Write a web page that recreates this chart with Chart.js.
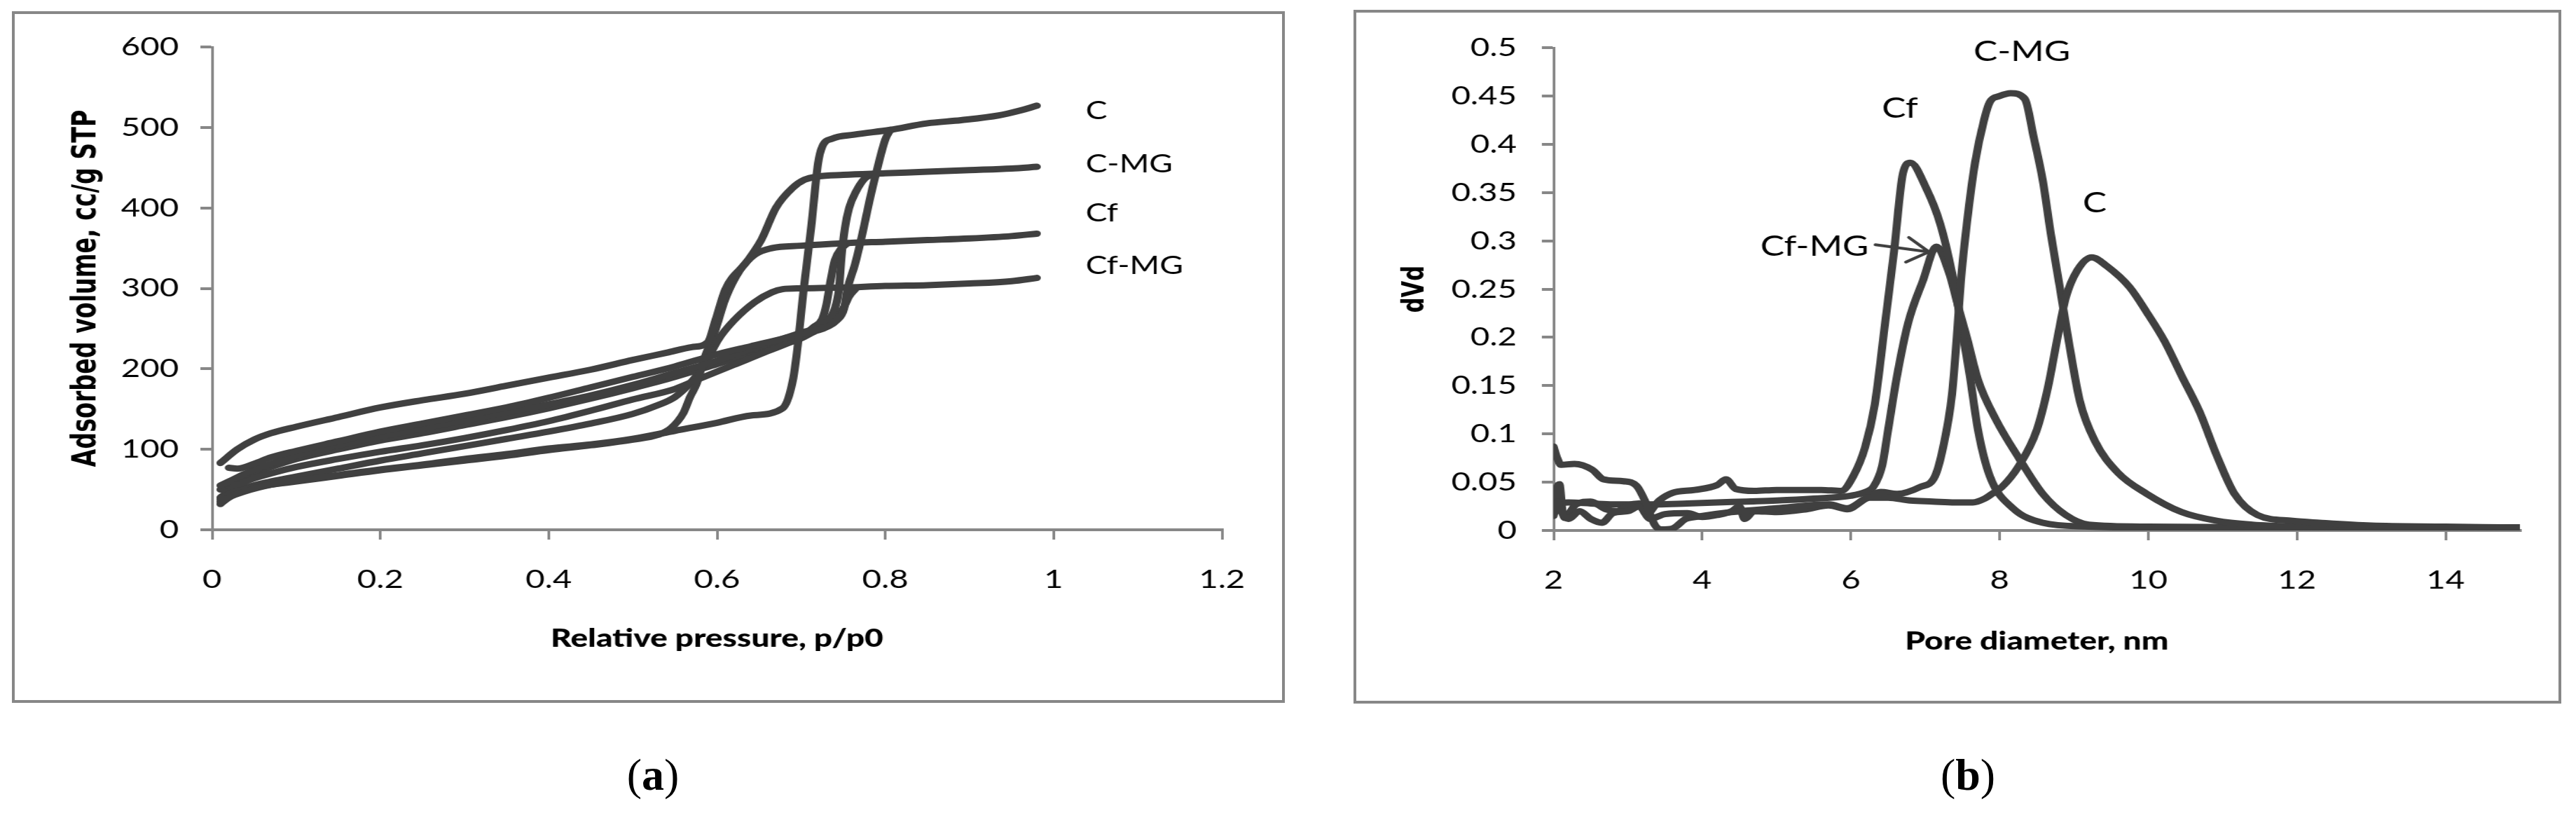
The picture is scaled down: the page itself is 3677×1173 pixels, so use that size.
<!DOCTYPE html>
<html>
<head>
<meta charset="utf-8">
<script src="https://cdn.jsdelivr.net/npm/chart.js@4.4.0/dist/chart.umd.min.js"></script>
<style>
  html, body { margin: 0; padding: 0; background: #fff; }
  body { width: 3677px; height: 1173px; position: relative; overflow: hidden; }
  .panel { position: absolute; border: 4px solid #878787; box-sizing: border-box; background: #fff; }
  .panel canvas { position: absolute; left: 0; top: 0; }
  .cap { position: absolute; font-family: 'Liberation Serif', 'DejaVu Serif', serif; font-size: 64px; color: #000; transform: translate(-50%, -50%); }
</style>
</head>
<body>
<!-- the source figure is stretched sideways, so each canvas is drawn narrower and widened by css -->
<div class="panel" style="left:17px;top:16px;width:1817px;height:987px;">
  <canvas id="chartA" width="1413" height="979" style="width:1809px;height:979px;"></canvas>
</div>
<div class="panel" style="left:1932px;top:14px;width:1724px;height:990px;">
  <canvas id="chartB" width="1341" height="982" style="width:1716px;height:982px;"></canvas>
</div>
<div class="cap" style="left:932px;top:1106px;">(<b>a</b>)</div>
<div class="cap" style="left:2809px;top:1106px;">(<b>b</b>)</div>

<script>
// ---- (a) isotherms: relative pressure vs adsorbed volume, two branches per sample
const xTicksA = [0, 0.2, 0.4, 0.6, 0.8, 1, 1.2];
const xLabelsA = ['0', '0.2', '0.4', '0.6', '0.8', '1', '1.2'];
const yTicksA = [0, 100, 200, 300, 400, 500, 600];

const cLowP = [0.01, 0.02, 0.04, 0.07, 0.1, 0.15, 0.2, 0.25, 0.3, 0.35, 0.4, 0.45, 0.5, 0.55, 0.6, 0.64, 0.678, 0.69, 0.695, 0.703, 0.712, 0.72, 0.725, 0.737, 0.763, 0.806, 0.849, 0.89, 0.935, 0.96, 0.98];
const cLowV = [32, 40, 48, 56, 61, 68, 75, 81, 88, 94, 101, 106, 113, 123, 133, 142, 151, 185, 221, 299, 377, 455, 476, 486, 491, 497, 505, 509, 515, 521, 527];
const cHighP = [0.02, 0.03, 0.05, 0.07, 0.1, 0.15, 0.2, 0.25, 0.3, 0.35, 0.4, 0.45, 0.5, 0.55, 0.6, 0.64, 0.68, 0.717, 0.742, 0.751, 0.755, 0.764, 0.773, 0.781, 0.79, 0.8, 0.806];
const cHighV = [77, 76, 82, 90, 98, 110, 122, 132, 142, 152, 164, 177, 190, 203, 218, 228, 238, 248, 260, 275, 299, 330, 369, 408, 447, 485, 497];

const cmgLowP = [0.01, 0.03, 0.05, 0.07, 0.1, 0.15, 0.2, 0.25, 0.3, 0.35, 0.4, 0.45, 0.5, 0.54, 0.57, 0.589, 0.598, 0.61, 0.636, 0.653, 0.67, 0.69, 0.704, 0.72, 0.75, 0.8, 0.85, 0.9, 0.95, 0.98];
const cmgLowV = [83, 100, 112, 120, 128, 140, 152, 161, 169, 179, 189, 199, 211, 220, 227, 233, 260, 299, 334, 361, 400, 425, 435, 439, 441, 443, 445, 447, 449, 451];
const cmgHighP = [0.01, 0.02, 0.04, 0.07, 0.1, 0.15, 0.2, 0.25, 0.3, 0.35, 0.4, 0.45, 0.5, 0.55, 0.6, 0.65, 0.7, 0.73, 0.74, 0.745, 0.748, 0.752, 0.757, 0.765, 0.775, 0.785];
const cmgHighV = [55, 60, 70, 82, 92, 105, 116, 126, 136, 146, 156, 167, 180, 195, 210, 228, 245, 258, 275, 300, 340, 375, 400, 420, 436, 442];

const cfLowP = [0.01, 0.02, 0.04, 0.07, 0.1, 0.15, 0.2, 0.25, 0.3, 0.35, 0.4, 0.45, 0.5, 0.53, 0.545, 0.56, 0.568, 0.576, 0.585, 0.598, 0.61, 0.627, 0.645, 0.665, 0.7, 0.75, 0.8, 0.85, 0.9, 0.95, 0.98];
const cfLowV = [38, 45, 50, 56, 60, 67, 74, 80, 86, 92, 99, 105, 112, 118, 126, 145, 165, 182, 213, 248, 287, 322, 342, 350, 353, 356, 358, 360, 362, 365, 368];
const cfHighP = [0.01, 0.02, 0.04, 0.07, 0.1, 0.15, 0.2, 0.25, 0.3, 0.35, 0.4, 0.45, 0.5, 0.55, 0.58, 0.62, 0.66, 0.7, 0.715, 0.725, 0.73, 0.735, 0.74, 0.748, 0.755];
const cfHighV = [40, 48, 60, 70, 78, 88, 97, 105, 114, 124, 135, 148, 162, 175, 188, 205, 222, 240, 252, 262, 280, 310, 335, 350, 356];

const cfmgLowP = [0.01, 0.02, 0.04, 0.07, 0.1, 0.15, 0.2, 0.25, 0.3, 0.35, 0.4, 0.45, 0.5, 0.53, 0.55, 0.568, 0.585, 0.602, 0.62, 0.645, 0.665, 0.678, 0.7, 0.75, 0.8, 0.85, 0.9, 0.95, 0.98];
const cfmgLowV = [35, 42, 52, 60, 66, 76, 86, 95, 104, 113, 122, 132, 144, 155, 165, 182, 205, 237, 260, 283, 295, 299, 300, 301, 303, 304, 306, 309, 313];
const cfmgHighP = [0.01, 0.02, 0.04, 0.07, 0.1, 0.15, 0.2, 0.25, 0.3, 0.35, 0.4, 0.45, 0.5, 0.55, 0.6, 0.65, 0.7, 0.715, 0.73, 0.74, 0.75, 0.757, 0.765];
const cfmgHighV = [50, 56, 66, 78, 88, 100, 111, 120, 130, 140, 151, 163, 176, 190, 206, 222, 238, 246, 252, 262, 275, 290, 300];

// ---- (b) pore size distribution: pore diameter (nm) vs dVd
const xTicksB = [2, 4, 6, 8, 10, 12, 14];
const yTicksB = [0, 0.05, 0.1, 0.15, 0.2, 0.25, 0.3, 0.35, 0.4, 0.45, 0.5];
const yLabelsB = ['0', '0.05', '0.1', '0.15', '0.2', '0.25', '0.3', '0.35', '0.4', '0.45', '0.5'];

const cD = [2.0, 2.05, 2.1, 2.28, 2.52, 2.67, 2.94, 3.12, 3.24, 3.36, 3.45, 3.6, 3.78, 3.96, 4.39, 5.0, 5.71, 5.95, 6.25, 6.5, 6.8, 7.1, 7.4, 7.64, 7.8, 7.9, 8.03, 8.26, 8.5, 8.65, 8.77, 8.89, 9.05, 9.24, 9.44, 9.75, 9.98, 10.22, 10.45, 10.69, 10.92, 11.16, 11.47, 11.94, 12.3, 13, 14, 15];
const cV = [0.087, 0.075, 0.068, 0.069, 0.063, 0.053, 0.051, 0.046, 0.029, 0.006, 0.001, 0.002, 0.012, 0.0145, 0.019, 0.023, 0.027, 0.023, 0.034, 0.034, 0.031, 0.030, 0.029, 0.029, 0.033, 0.038, 0.045, 0.067, 0.104, 0.148, 0.196, 0.241, 0.27, 0.283, 0.274, 0.252, 0.226, 0.196, 0.16, 0.123, 0.078, 0.038, 0.016, 0.01, 0.008, 0.005, 0.004, 0.003];

const cmgD = [2.0, 2.05, 2.1, 2.2, 2.35, 2.5, 2.65, 2.8, 3.0, 3.15, 3.3, 3.5, 3.8, 4.0, 4.2, 4.4, 4.5, 4.57, 4.7, 5.0, 5.4, 5.7, 5.95, 6.2, 6.4, 6.62, 6.93, 7.13, 7.24, 7.36, 7.42, 7.48, 7.56, 7.67, 7.79, 7.87, 8.0, 8.15, 8.34, 8.46, 8.58, 8.69, 8.81, 8.93, 9.08, 9.28, 9.59, 9.98, 10.45, 10.92, 11.4, 12, 13, 15];
const cmgV = [0.015, 0.03, 0.02, 0.012, 0.02, 0.012, 0.008, 0.018, 0.02, 0.025, 0.012, 0.017, 0.018, 0.014, 0.016, 0.02, 0.025, 0.012, 0.02, 0.019, 0.022, 0.026, 0.022, 0.033, 0.04, 0.038, 0.045, 0.056, 0.086, 0.141, 0.196, 0.259, 0.318, 0.381, 0.425, 0.444, 0.45, 0.453, 0.447, 0.407, 0.363, 0.307, 0.252, 0.196, 0.134, 0.093, 0.06, 0.038, 0.019, 0.01, 0.006, 0.004, 0.003, 0.003];

const cfD = [2.0, 2.05, 2.08, 2.12, 2.15, 2.3, 2.5, 2.7, 2.85, 3.0, 3.15, 3.25, 3.42, 3.6, 3.9, 4.2, 4.32, 4.45, 4.7, 5.0, 5.6, 5.87, 6.03, 6.19, 6.32, 6.46, 6.58, 6.7, 6.8, 7.01, 7.2, 7.36, 7.48, 7.6, 7.71, 7.87, 8.18, 8.58, 9.2, 10, 12, 15];
const cfV = [0.02, 0.045, 0.048, 0.02, 0.013, 0.027, 0.03, 0.022, 0.02, 0.026, 0.028, 0.017, 0.031, 0.039, 0.042, 0.047, 0.053, 0.043, 0.041, 0.042, 0.042, 0.041, 0.056, 0.086, 0.13, 0.215, 0.289, 0.37, 0.381, 0.355, 0.318, 0.267, 0.215, 0.16, 0.104, 0.056, 0.023, 0.008, 0.004, 0.003, 0.003, 0.003];

const cfmgD = [2.0, 2.2, 2.5, 2.8, 3.1, 3.4, 3.8, 4.2, 4.6, 5.0, 5.5, 6.0, 6.2, 6.3, 6.42, 6.5, 6.62, 6.77, 6.97, 7.15, 7.32, 7.44, 7.56, 7.71, 7.95, 8.26, 8.58, 8.89, 9.2, 10, 12, 15];
const cfmgV = [0.028, 0.029, 0.028, 0.027, 0.027, 0.027, 0.028, 0.029, 0.03, 0.031, 0.033, 0.036, 0.04, 0.045, 0.067, 0.104, 0.16, 0.215, 0.259, 0.294, 0.267, 0.233, 0.2, 0.156, 0.115, 0.075, 0.038, 0.016, 0.006, 0.004, 0.003, 0.003];

const lineColor = '#404040';
const axisColor = '#878787';
const tickFont = { family: 'Lato', size: 37 };

function pts(xs, ys) {
  return xs.map(function (x, i) { return { x: x, y: ys[i] }; });
}

function series(xs, ys) {
  return {
    data: pts(xs, ys),
    showLine: true,
    borderColor: lineColor,
    borderWidth: 9,
    borderCapStyle: 'round',
    borderJoinStyle: 'round',
    pointRadius: 0,
    cubicInterpolationMode: 'monotone'
  };
}

// sample names written next to the curves, placed in data units
const notesPlugin = {
  id: 'notes',
  afterDatasetsDraw(chart, args, opts) {
    const ctx = chart.ctx;
    const sx = chart.scales.x, sy = chart.scales.y;
    ctx.save();
    ctx.fillStyle = '#000';
    ctx.font = opts.font;
    ctx.textBaseline = 'middle';
    opts.items.forEach(function (n) {
      ctx.textAlign = n.align;
      ctx.fillText(n.text, sx.getPixelForValue(n.x), sy.getPixelForValue(n.y));
    });
    if (opts.arrow) {
      const a = opts.arrow;
      const px = function (p) { return [sx.getPixelForValue(p[0]), sy.getPixelForValue(p[1])]; };
      const f = px(a.from), t = px(a.to), h1 = px(a.head1), h2 = px(a.head2);
      ctx.strokeStyle = lineColor;
      ctx.lineWidth = 4;
      ctx.lineCap = 'round';
      ctx.beginPath();
      ctx.moveTo(f[0], f[1]); ctx.lineTo(t[0], t[1]);
      ctx.moveTo(h1[0], h1[1]); ctx.lineTo(t[0], t[1]); ctx.lineTo(h2[0], h2[1]);
      ctx.stroke();
    }
    ctx.restore();
  }
};

function axes(o) {
  return {
    x: {
      type: 'linear', min: o.xMin, max: o.xMax,
      border: { color: axisColor, width: 4 },
      grid: { drawOnChartArea: false, drawTicks: true, tickLength: 14, color: axisColor, lineWidth: 3 },
      afterBuildTicks: function (s) { s.ticks = o.xTicks.map(function (v) { return { value: v }; }); },
      afterFit: function (s) { s.height = o.xHeight; },
      ticks: { autoSkip: false, maxRotation: 0, padding: o.xPad, color: '#000', font: tickFont,
        callback: function (v, i) { return o.xLabels[i]; } },
      title: { display: true, text: o.xTitle, color: '#000', padding: { top: 0, bottom: o.xTitlePad },
        font: { family: 'Lato', weight: '900', size: 36 } }
    },
    y: {
      type: 'linear', min: o.yMin, max: o.yMax,
      border: { color: axisColor, width: 3 },
      grid: { drawOnChartArea: false, drawTicks: true, tickLength: 13, color: axisColor, lineWidth: 4 },
      afterBuildTicks: function (s) { s.ticks = o.yTicks.map(function (v) { return { value: v }; }); },
      afterFit: function (s) { s.width = o.yWidth; },
      ticks: { autoSkip: false, padding: o.yPad, color: '#000', font: tickFont,
        callback: function (v, i) { return o.yLabels[i]; } },
      title: { display: true, text: o.yTitle, color: '#000', padding: { top: o.yTitlePad, bottom: 0 },
        font: { family: "'DejaVu Sans Condensed', 'DejaVu Sans'", weight: 'bold', size: o.yTitleSize } }
    }
  };
}

new Chart(document.getElementById('chartA').getContext('2d'), {
  type: 'scatter',
  data: {
    datasets: [
      series(cLowP, cLowV), series(cHighP, cHighV),
      series(cmgLowP, cmgLowV), series(cmgHighP, cmgHighV),
      series(cfLowP, cfLowV), series(cfHighP, cfHighV),
      series(cfmgLowP, cfmgLowV), series(cfmgHighP, cfmgHighV)
    ]
  },
  plugins: [notesPlugin],
  options: {
    responsive: false,
    animation: false,
    layout: { padding: { top: 47, right: 67, bottom: 0, left: 0 } },
    scales: axes({
      xMin: 0, xMax: 1.2, xTicks: xTicksA, xLabels: xLabelsA, xHeight: 243, xPad: 35,
      xTitle: 'Relative pressure, p/p0', xTitlePad: 66,
      yMin: 0, yMax: 600, yTicks: yTicksA, yLabels: yTicksA.map(String), yWidth: 220, yPad: 24,
      yTitle: 'Adsorbed volume, cc/g STP', yTitlePad: 58, yTitleSize: 37
    }),
    plugins: {
      legend: { display: false },
      tooltip: { enabled: false },
      notes: {
        font: '36px Lato',
        items: [
          { text: 'C', x: 1.038, y: 520, align: 'left' },
          { text: 'C-MG', x: 1.038, y: 454, align: 'left' },
          { text: 'Cf', x: 1.038, y: 393, align: 'left' },
          { text: 'Cf-MG', x: 1.038, y: 328, align: 'left' }
        ]
      }
    }
  }
});

new Chart(document.getElementById('chartB').getContext('2d'), {
  type: 'scatter',
  data: {
    datasets: [
      series(cD, cV), series(cmgD, cmgV), series(cfD, cfV), series(cfmgD, cfmgV)
    ]
  },
  plugins: [notesPlugin],
  options: {
    responsive: false,
    animation: false,
    layout: { padding: { top: 47, right: 43, bottom: 0, left: 0 } },
    scales: axes({
      xMin: 2, xMax: 15, xTicks: xTicksB, xLabels: xTicksB.map(String), xHeight: 243, xPad: 35,
      xTitle: 'Pore diameter, nm', xTitlePad: 63,
      yMin: 0, yMax: 0.5, yTicks: yTicksB, yLabels: yLabelsB, yWidth: 220, yPad: 28,
      yTitle: 'dVd', yTitlePad: 46, yTitleSize: 34
    }),
    plugins: {
      legend: { display: false },
      tooltip: { enabled: false },
      notes: {
        font: '40px Lato',
        items: [
          { text: 'C-MG', x: 8.30, y: 0.496, align: 'center' },
          { text: 'Cf', x: 6.66, y: 0.437, align: 'center' },
          { text: 'C', x: 9.28, y: 0.339, align: 'center' },
          { text: 'Cf-MG', x: 6.24, y: 0.294, align: 'right' }
        ],
        arrow: { from: [6.33, 0.296], to: [7.05, 0.2886], head1: [6.78, 0.3035], head2: [6.74, 0.278] }
      }
    }
  }
});
</script>
</body>
</html>
